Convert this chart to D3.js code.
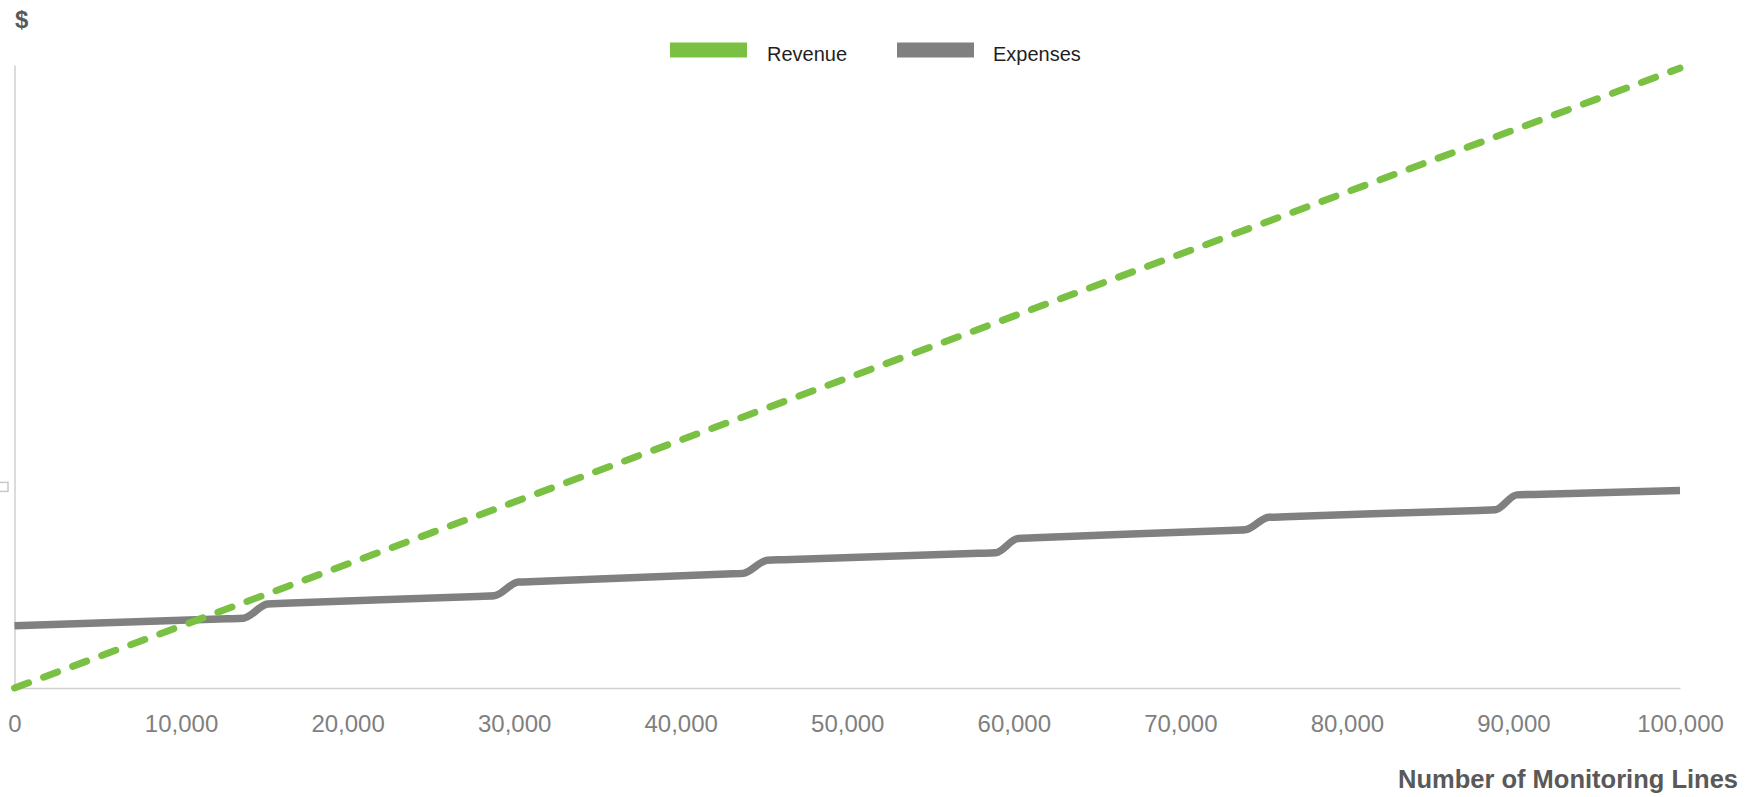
<!DOCTYPE html>
<html>
<head>
<meta charset="utf-8">
<script src="https://cdn.jsdelivr.net/npm/d3@7/dist/d3.min.js"></script>
<style>
  html, body { margin: 0; padding: 0; background: #fff; }
  svg { display: block; }
</style>
</head>
<body>
<svg id="chart" width="1758" height="797"></svg>
<script>
// ---- data ----
const xTicks = [0, 10000, 20000, 30000, 40000, 50000, 60000, 70000, 80000, 90000, 100000];
const revenueLines = [0, 100000];
const revenueValues = [0, 9950000];
const expenseLines = [0, 12750, 13750, 15200, 16200, 27800, 28800, 30250, 31250, 42750, 43750, 45200, 46200,
  57900, 58900, 60250, 61250, 72900, 73900, 75300, 76300, 87900, 88900, 90200, 91200, 100000];
const expenseValues = [1000000, 1111000, 1120000, 1350000, 1360000, 1470000, 1480000, 1700000, 1710000, 1830000, 1840000, 2050000, 2059000,
  2161000, 2170000, 2400000, 2410000, 2530000, 2540000, 2740000, 2749000, 2851000, 2860000, 3100000, 3107000, 3170000];
const seriesNames = ["Revenue", "Expenses"];
const colors = ["#7ac143", "#808080"];

// ---- layout ----
const svg = d3.select("#chart");
const x = d3.scaleLinear().domain([0, 100000]).range([14.5, 1680]);
const y = d3.scaleLinear().domain([0, 10000000]).range([688, 65]);

// axes
const xAxis = svg.append("g")
  .attr("transform", "translate(0,688)")
  .call(d3.axisBottom(x).tickValues(xTicks).tickSize(0).tickSizeOuter(0).tickPadding(27).tickFormat(d3.format(",")));
xAxis.select(".domain").attr("stroke", "#d0d0d0").attr("stroke-width", 1.5);
xAxis.selectAll("text")
  .attr("font-family", "Liberation Sans, Arial, sans-serif")
  .attr("font-size", 24)
  .attr("fill", "#7f7f7f");

const yAxis = svg.append("g")
  .attr("transform", "translate(14.5,0)")
  .call(d3.axisLeft(y).tickValues([]).tickSizeOuter(0));
yAxis.select(".domain").attr("stroke", "#d0d0d0").attr("stroke-width", 1.5);

// small clipped marker on left edge
svg.append("rect")
  .attr("x", -3).attr("y", y(3300000))
  .attr("width", 11).attr("height", 9)
  .attr("fill", "none").attr("stroke", "#c8c8c8").attr("stroke-width", 1.5);

// lines
const lineGen = d3.line().x(d => x(d[0])).y(d => y(d[1])).curve(d3.curveMonotoneX);

const expenseData = expenseLines.map((v, i) => [v, expenseValues[i]]);
svg.append("path")
  .datum(expenseData)
  .attr("d", lineGen)
  .attr("fill", "none")
  .attr("stroke", colors[1])
  .attr("stroke-width", 7.5)
  .attr("stroke-linejoin", "round");

const revenueData = revenueLines.map((v, i) => [v, revenueValues[i]]);
svg.append("path")
  .datum(revenueData)
  .attr("d", lineGen)
  .attr("fill", "none")
  .attr("stroke", colors[0])
  .attr("stroke-width", 7)
  .attr("stroke-dasharray", "15,16")
  .attr("stroke-linecap", "round");

// "$" label
svg.append("text")
  .attr("x", 15).attr("y", 28)
  .attr("font-family", "Liberation Sans, Arial, sans-serif")
  .attr("font-weight", "bold")
  .attr("font-size", 24)
  .attr("fill", "#595959")
  .text("$");

// x axis title
svg.append("text")
  .attr("x", 1738).attr("y", 788)
  .attr("text-anchor", "end")
  .attr("font-family", "Liberation Sans, Arial, sans-serif")
  .attr("font-weight", "bold")
  .attr("font-size", 25.5)
  .attr("fill", "#595959")
  .text("Number of Monitoring Lines");

// legend
const legendX = [670, 897];
const legendTextX = [767, 993];
seriesNames.forEach((name, i) => {
  svg.append("rect")
    .attr("x", legendX[i]).attr("y", 42.5)
    .attr("width", 77).attr("height", 15)
    .attr("fill", colors[i]);
  svg.append("text")
    .attr("x", legendTextX[i]).attr("y", 61)
    .attr("font-family", "Liberation Sans, Arial, sans-serif")
    .attr("font-size", 20)
    .attr("fill", "#1f1f1f")
    .text(name);
});
</script>
</body>
</html>
